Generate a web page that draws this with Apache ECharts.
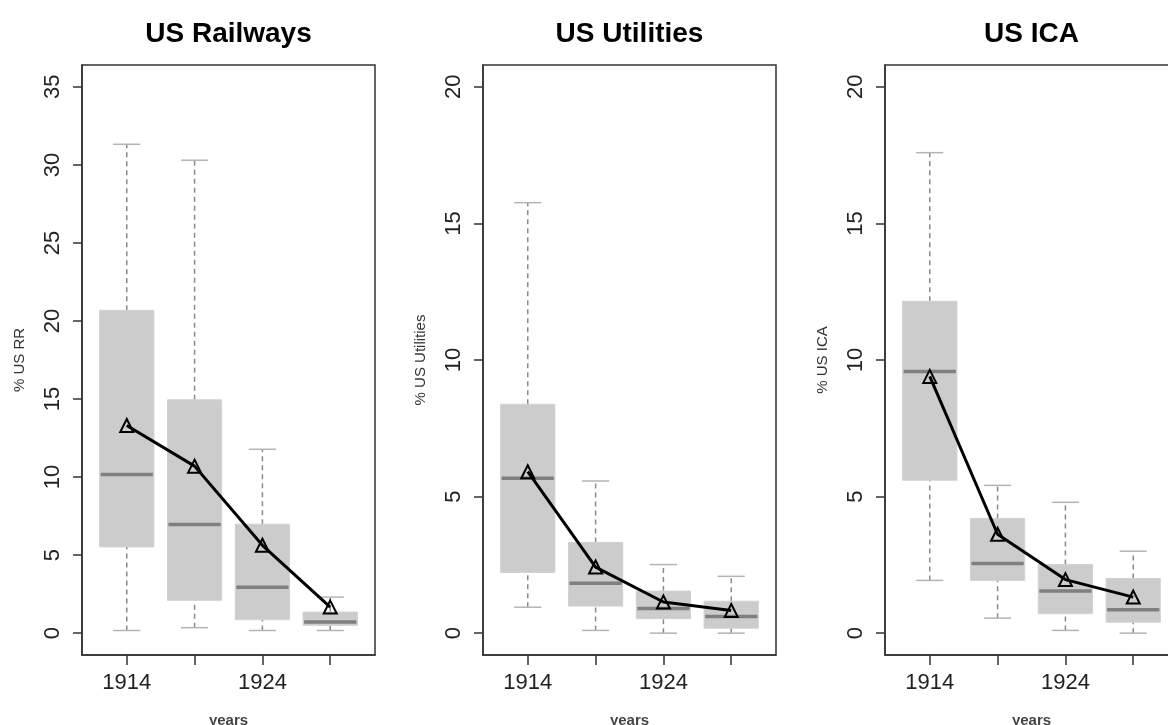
<!DOCTYPE html>
<html>
<head>
<meta charset="utf-8">
<script src="https://cdn.jsdelivr.net/npm/echarts@6/dist/echarts.min.js"></script>
<style>
html,body{margin:0;padding:0;background:#fff;}
#chart{width:1168px;height:725px;}
</style>
</head>
<body>
<div id="chart"></div>
<script>
// ---- data ----
const years = ['1914', '1919', '1924', '1929'];
const labeledYears = ['1914', '1924'];
const titles = ['US Railways', 'US Utilities', 'US ICA'];
const yNames = ['% US RR', '% US Utilities', '% US ICA'];
const xName = 'years';

const rrTicks = [0, 5, 10, 15, 20, 25, 30, 35];
const utTicks = [0, 5, 10, 15, 20];
const icaTicks = [0, 5, 10, 15, 20];

// US Railways
const rrLow  = [0.17, 0.35, 0.17, 0.17];
const rrQ1   = [5.52, 2.10, 0.86, 0.50];
const rrMed  = [10.17, 6.96, 2.94, 0.71];
const rrQ3   = [20.68, 14.95, 6.98, 1.35];
const rrHigh = [31.32, 30.30, 11.78, 2.31];
const rrMean = [13.30, 10.70, 5.63, 1.67];

// US Utilities
const utLow  = [0.95, 0.10, 0.00, 0.00];
const utQ1   = [2.22, 0.99, 0.53, 0.18];
const utMed  = [5.67, 1.83, 0.90, 0.61];
const utQ3   = [8.38, 3.32, 1.54, 1.17];
const utHigh = [15.76, 5.57, 2.51, 2.08];
const utMean = [5.91, 2.42, 1.14, 0.83];

// US ICA
const icaLow  = [1.93, 0.55, 0.10, 0.00];
const icaQ1   = [5.60, 1.93, 0.71, 0.40];
const icaMed  = [9.58, 2.55, 1.54, 0.86];
const icaQ3   = [12.15, 4.20, 2.51, 2.00];
const icaHigh = [17.59, 5.41, 4.79, 3.00];
const icaMean = [9.40, 3.62, 1.96, 1.32];

// ---- layout / style ----
const FONT = '"Liberation Sans", Arial, sans-serif';
const gridLefts = [82, 483, 885];
const gridWidth = 293;
const gridTop = 65;
const gridHeight = 590;
const yRanges = [[-1.4, 36.4], [-0.8, 20.8], [-0.8, 20.8]];
const panelTicks = [rrTicks, utTicks, icaTicks];
const panels = [
  [rrLow, rrQ1, rrMed, rrQ3, rrHigh, rrMean],
  [utLow, utQ1, utMed, utQ3, utHigh, utMean],
  [icaLow, icaQ1, icaMed, icaQ3, icaHigh, icaMean]
];

function renderBox(params, api) {
  const x = api.value(0);
  const lo = api.value(1), q1 = api.value(2), med = api.value(3), q3 = api.value(4), hi = api.value(5);
  const halfW = api.size([0.4, 0])[0];
  const stapleHalf = api.size([0.2, 0])[0];
  const pLo = api.coord([x, lo]);
  const pQ1 = api.coord([x, q1]);
  const pMed = api.coord([x, med]);
  const pQ3 = api.coord([x, q3]);
  const pHi = api.coord([x, hi]);
  const cx = pMed[0];
  const whiskerStyle = { stroke: '#8a8a8a', lineWidth: 1.5, lineDash: [5, 4] };
  const stapleStyle = { stroke: '#b4b4b4', lineWidth: 1.5 };
  return {
    type: 'group',
    children: [
      { type: 'line', shape: { x1: cx, y1: pQ3[1], x2: cx, y2: pHi[1] }, style: whiskerStyle },
      { type: 'line', shape: { x1: cx, y1: pLo[1], x2: cx, y2: pQ1[1] }, style: whiskerStyle },
      { type: 'line', shape: { x1: cx - stapleHalf, y1: pHi[1], x2: cx + stapleHalf, y2: pHi[1] }, style: stapleStyle },
      { type: 'line', shape: { x1: cx - stapleHalf, y1: pLo[1], x2: cx + stapleHalf, y2: pLo[1] }, style: stapleStyle },
      { type: 'rect', shape: { x: cx - halfW, y: pQ3[1], width: halfW * 2, height: pQ1[1] - pQ3[1] },
        style: { fill: '#cccccc', stroke: '#d2d2d2', lineWidth: 1 } },
      { type: 'line', shape: { x1: cx - halfW + 1, y1: pMed[1], x2: cx + halfW - 1, y2: pMed[1] },
        style: { stroke: '#7f7f7f', lineWidth: 3.5 } }
    ]
  };
}

const axisLineStyle = { color: '#333', width: 1.5 };
const grid = [], xAxis = [], yAxis = [], series = [], title = [];
panels.forEach((p, i) => {
  grid.push({ left: gridLefts[i], top: gridTop, width: gridWidth, height: gridHeight,
    outerBoundsMode: 'none', containLabel: false,
    show: true, borderColor: '#333', borderWidth: 1.5, backgroundColor: 'transparent' });
  title.push({ text: titles[i], left: gridLefts[i] + gridWidth / 2 - 5, top: 15, textAlign: 'center',
    textStyle: { fontFamily: FONT, fontSize: 28, fontWeight: 'bold', color: '#000' } });
  xAxis.push({
    type: 'value', gridIndex: i, min: 0.34, max: 4.66,
    name: xName, nameLocation: 'middle', nameGap: 58,
    nameTextStyle: { fontFamily: FONT, fontSize: 15, fontWeight: 'bold', color: '#444' },
    axisLine: { show: true, onZero: false, lineStyle: axisLineStyle },
    splitLine: { show: false },
    axisTick: { show: true, length: 10, customValues: years.map((y, k) => k + 1),
      lineStyle: axisLineStyle },
    axisLabel: { show: true, margin: 17, fontFamily: FONT, fontSize: 22, color: '#222',
      customValues: labeledYears.map(y => years.indexOf(y) + 1),
      formatter: v => years[Math.round(v) - 1] || '' }
  });
  yAxis.push({
    type: 'value', gridIndex: i, min: yRanges[i][0], max: yRanges[i][1],
    name: yNames[i], nameLocation: 'middle', nameGap: 55, nameRotate: 90,
    nameTextStyle: { fontFamily: FONT, fontSize: 15, color: '#333' },
    axisLine: { show: true, onZero: false, lineStyle: axisLineStyle },
    splitLine: { show: false },
    axisTick: { show: true, length: 9, customValues: panelTicks[i],
      lineStyle: axisLineStyle },
    axisLabel: { show: true, rotate: 90, margin: 18, fontFamily: FONT, fontSize: 22, color: '#222',
      customValues: panelTicks[i] }
  });
  const boxData = years.map((y, k) => [k + 1, p[0][k], p[1][k], p[2][k], p[3][k], p[4][k]]);
  series.push({
    type: 'custom', xAxisIndex: i, yAxisIndex: i, renderItem: renderBox,
    data: boxData, encode: { x: 0, y: [1, 2, 3, 4, 5] }, z: 2, silent: true
  });
  series.push({
    type: 'line', xAxisIndex: i, yAxisIndex: i, z: 5, silent: true,
    data: years.map((y, k) => [k + 1, p[5][k]]),
    symbol: 'triangle', symbolSize: 13,
    lineStyle: { color: '#000', width: 3 },
    itemStyle: { color: 'rgba(0,0,0,0)', borderColor: '#000', borderWidth: 2 }
  });
});

const chart = echarts.init(document.getElementById('chart'), null, { renderer: 'canvas' });
chart.setOption({
  animation: false,
  backgroundColor: '#fff',
  title, grid, xAxis, yAxis, series
});
</script>
</body>
</html>
